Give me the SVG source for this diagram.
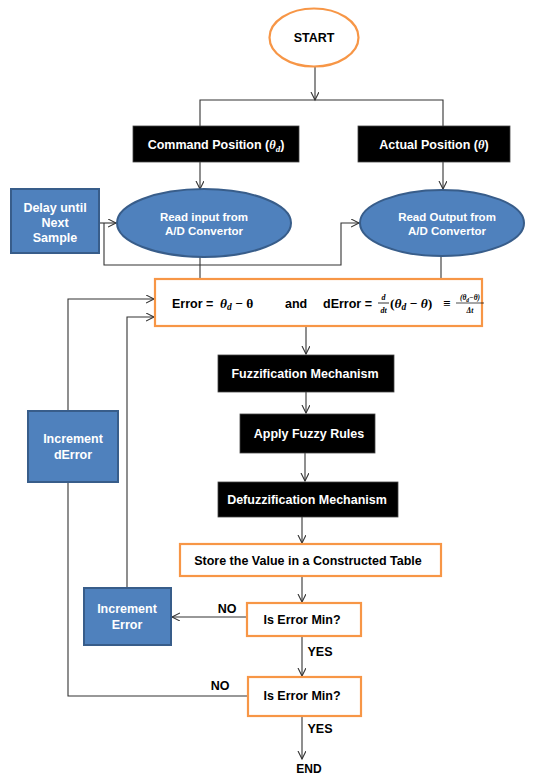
<svg xmlns="http://www.w3.org/2000/svg" width="545" height="777" viewBox="0 0 545 777">
<style>
.t{font-family:"Liberation Sans",Arial,sans-serif;font-weight:bold;text-anchor:middle}
.w{fill:#fff}
.k{fill:#000}
.m{font-family:"Liberation Serif","Times New Roman",serif;font-weight:bold;font-style:italic}
.blk{fill:#000;stroke:#444;stroke-width:0.8}
.blue{fill:#4F81BD;stroke:#385D8A;stroke-width:2}
.org{fill:#fff;stroke:#F79646;stroke-width:2.2}
.c{fill:none;stroke:#333;stroke-width:1.1}
</style>
<defs>
<marker id="a" markerWidth="10" markerHeight="10" refX="8" refY="4" orient="auto" markerUnits="userSpaceOnUse">
<path d="M0,0 L8,4 L0,8" fill="none" stroke="#333" stroke-width="1.1"/>
</marker>
</defs>
<rect width="545" height="777" fill="#fff"/>
<g id="connectors">
<line class="c" x1="315" y1="67" x2="315" y2="100" marker-end="url(#a)"/>
<polyline class="c" points="200,126 200,100 443,100 443,126"/>
<line class="c" x1="200" y1="162" x2="200" y2="189" marker-end="url(#a)"/>
<line class="c" x1="443" y1="162" x2="443" y2="189" marker-end="url(#a)"/>
<line class="c" x1="99" y1="223" x2="116" y2="223" marker-end="url(#a)"/>
<polyline class="c" points="104,223 104,265 341,265 341,223 359,223" marker-end="url(#a)"/>
<line class="c" x1="200" y1="257" x2="200" y2="279"/>
<line class="c" x1="441" y1="256" x2="441" y2="279"/>
<polyline class="c" points="68,411 68,299 154,299" marker-end="url(#a)"/>
<polyline class="c" points="127,588 127,317 154,317" marker-end="url(#a)"/>
<line class="c" x1="306" y1="326" x2="306" y2="354" marker-end="url(#a)"/>
<line class="c" x1="306" y1="392" x2="306" y2="413" marker-end="url(#a)"/>
<line class="c" x1="305" y1="453" x2="305" y2="481" marker-end="url(#a)"/>
<line class="c" x1="302" y1="517" x2="302" y2="543" marker-end="url(#a)"/>
<line class="c" x1="302" y1="576" x2="302" y2="602" marker-end="url(#a)"/>
<line class="c" x1="247" y1="617" x2="172" y2="617" marker-end="url(#a)"/>
<line class="c" x1="302" y1="636" x2="302" y2="676" marker-end="url(#a)"/>
<polyline class="c" points="248,696 68,696 68,482"/>
<line class="c" x1="302" y1="716" x2="302" y2="759" marker-end="url(#a)"/>
<text class="t k" x="227" y="613" font-size="12.5">NO</text>
<text class="t k" x="320" y="656" font-size="12.5">YES</text>
<text class="t k" x="220" y="690" font-size="12.5">NO</text>
<text class="t k" x="320" y="733" font-size="12.5">YES</text>
</g>
<g id="start">
<ellipse cx="314" cy="37.5" rx="44.5" ry="29" fill="#fff" stroke="#F79646" stroke-width="2.2"/>
<text class="t k" x="314" y="42" font-size="12.5">START</text>
</g>
<g id="command">
<rect class="blk" x="133" y="126" width="166" height="36"/>
<text class="t w" x="216" y="149" font-size="12.5">Command Position (<tspan class="m" font-weight="normal">θ</tspan><tspan class="m" font-weight="normal" font-size="9" dy="3">d</tspan><tspan dy="-3">)</tspan></text>
</g>
<g id="actual">
<rect class="blk" x="358" y="126" width="152" height="36"/>
<text class="t w" x="434" y="149" font-size="12.5">Actual Position (<tspan class="m" font-weight="normal">θ</tspan>)</text>
</g>
<g id="delay">
<rect class="blue" x="11" y="189" width="88" height="64"/>
<text class="t w" x="55" y="212" font-size="12.5">Delay until</text>
<text class="t w" x="55" y="227" font-size="12.5">Next</text>
<text class="t w" x="55" y="242" font-size="12.5">Sample</text>
</g>
<g id="readInput">
<ellipse class="blue" cx="204" cy="223" rx="87" ry="34"/>
<text class="t w" x="204" y="221" font-size="11.5">Read input from</text>
<text class="t w" x="204" y="235" font-size="11.5">A/D Convertor</text>
</g>
<g id="readOutput">
<ellipse class="blue" cx="442" cy="223" rx="82" ry="33"/>
<text class="t w" x="447" y="221" font-size="11.5">Read Output from</text>
<text class="t w" x="447" y="235" font-size="11.5">A/D Convertor</text>
</g>
<g id="error">
<rect class="org" x="155" y="279" width="327" height="47"/>
<text font-family="Liberation Sans,Arial,sans-serif" font-weight="bold" font-size="12.5" x="172" y="308">Error =</text>
<text class="m" font-size="13.5" x="220" y="308">θ<tspan font-size="9.5" dy="2">d</tspan><tspan dy="-2" font-style="normal"> − θ</tspan></text>
<text font-family="Liberation Sans,Arial,sans-serif" font-weight="bold" font-size="12.5" x="285" y="308">and</text>
<text font-family="Liberation Sans,Arial,sans-serif" font-weight="bold" font-size="12.5" x="323" y="308">dError =</text>
<text class="m" font-size="8" x="383.5" y="300" text-anchor="middle">d</text>
<line x1="378" y1="303" x2="389" y2="303" stroke="#000" stroke-width="0.8"/>
<text class="m" font-size="8" x="383.5" y="313" text-anchor="middle">dt</text>
<text class="m" font-size="13.5" x="390" y="308"><tspan font-style="normal">(</tspan>θ<tspan font-size="9.5" dy="2">d</tspan><tspan dy="-2" font-style="normal"> − </tspan>θ<tspan font-style="normal">)</tspan></text>
<text class="m" font-size="13" font-style="normal" x="443" y="308">≡</text>
<text class="m" font-size="7.5" x="470" y="300" text-anchor="middle">(θ<tspan font-size="5.5" dy="1.5">d</tspan><tspan dy="-1.5">−θ)</tspan></text>
<line x1="456" y1="303" x2="484" y2="303" stroke="#000" stroke-width="0.7"/>
<text class="m" font-size="7.5" x="470" y="313" text-anchor="middle">Δt</text>
</g>
<g id="fuzzification">
<rect class="blk" x="218" y="355" width="176" height="37"/>
<text class="t w" x="305" y="378" font-size="12.5">Fuzzification Mechanism</text>
</g>
<g id="rules">
<rect class="blk" x="240" y="414" width="135" height="39"/>
<text class="t w" x="309" y="438" font-size="12.5">Apply Fuzzy Rules</text>
</g>
<g id="defuzzification">
<rect class="blk" x="218" y="482" width="180" height="35"/>
<text class="t w" x="307" y="504" font-size="12.5">Defuzzification Mechanism</text>
</g>
<g id="store">
<rect class="org" x="180" y="544" width="261" height="32"/>
<text class="t k" x="308" y="565" font-size="12.5">Store the Value in a Constructed Table</text>
</g>
<g id="incError">
<rect class="blue" x="84" y="588" width="87" height="57"/>
<text class="t w" x="127" y="613" font-size="12.5">Increment</text>
<text class="t w" x="127" y="629" font-size="12.5">Error</text>
</g>
<g id="incDError">
<rect class="blue" x="28" y="411" width="90" height="71"/>
<text class="t w" x="73" y="443" font-size="12.5">Increment</text>
<text class="t w" x="73" y="459" font-size="12.5">dError</text>
</g>
<g id="check1">
<rect class="org" x="247" y="603" width="114" height="33"/>
<text class="t k" x="302" y="624" font-size="12.5">Is Error Min?</text>
</g>
<g id="check2">
<rect class="org" x="248" y="677" width="113" height="39"/>
<text class="t k" x="302" y="700" font-size="12.5">Is Error Min?</text>
</g>
<g id="end">
<text class="t k" x="309" y="773" font-size="12">END</text>
</g>
</svg>
